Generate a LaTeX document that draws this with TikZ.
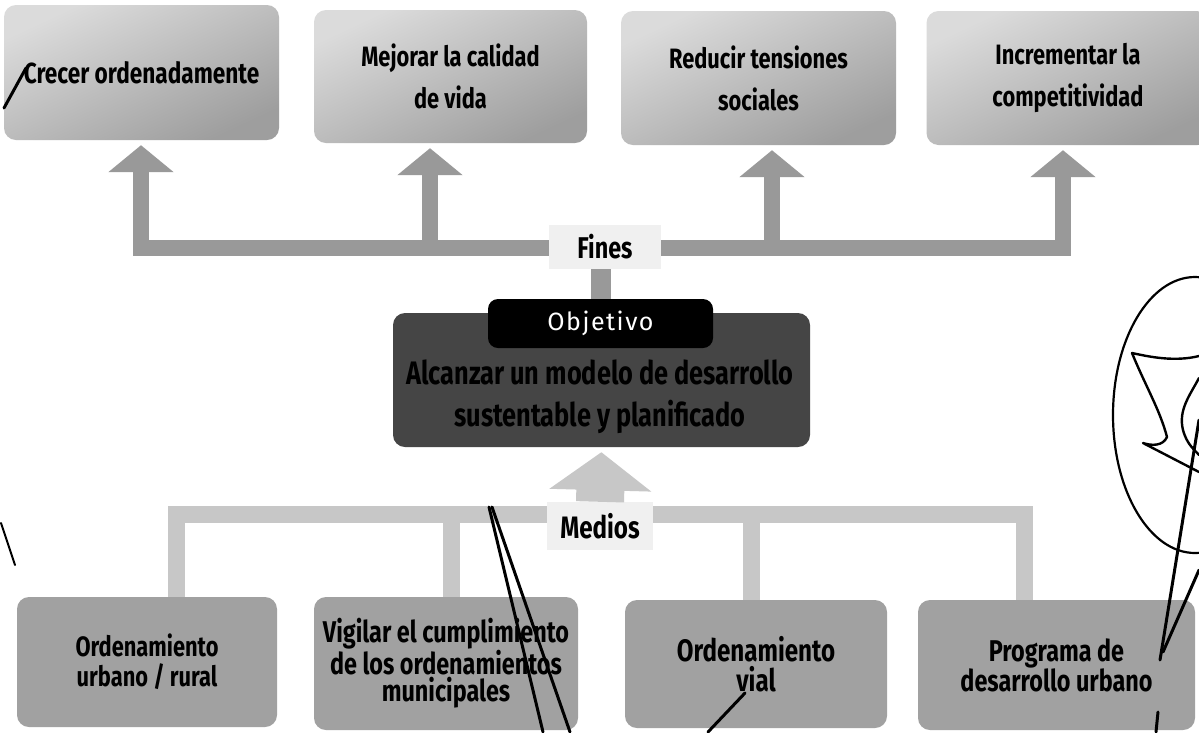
\documentclass[tikz,border=0pt]{standalone}
\usepackage{fontspec}
\usetikzlibrary{arrows.meta,calc}
\newfontfamily\cond[FakeStretch=0.78]{Fira Sans}
\newfontfamily\objf[LetterSpace=6]{Fira Sans}
\definecolor{fgray}{gray}{0.60}
\definecolor{mgray}{gray}{0.78}
\definecolor{bgray}{gray}{0.63}
\definecolor{ogray}{gray}{0.27}
\definecolor{lbl}{gray}{0.94}
\tikzset{
  tbox/.style={rounded corners=12pt, inner sep=0pt, align=center,
    top color=black!14, bottom color=black!38, shading angle=25,
    font=\cond\bfseries\fontsize{28}{42}\selectfont},
  bbox/.style={rounded corners=12pt, inner sep=0pt, align=center, fill=bgray,
    font=\cond\bfseries\fontsize{30}{27}\selectfont},
  lblbox/.style={fill=lbl, inner sep=0pt, font=\cond\bfseries\fontsize{30}{30}\selectfont},
  fbar/.style={draw=fgray, line width=16pt, line join=miter},
  fup/.style={fbar, -{Triangle[width=64pt,length=27pt]}, shorten >=5pt},
  mbar/.style={draw=mgray, line width=17pt, line join=miter},
  pen/.style={draw=black, line width=3pt, line cap=round, line join=round},
}
\begin{document}
\begin{tikzpicture}[x=1pt,y=-1pt]
\useasboundingbox (0,0) rectangle (1199,732);
\clip (0,0) rectangle (1199,732);
\fill[white] (0,0) rectangle (1199,732);

% top boxes
\node[tbox, minimum width=275pt, minimum height=135pt] (t1) at (141.5,72.5)
  {\fontsize{29}{42}\selectfont Crecer ordenadamente};
\node[tbox, minimum width=273pt, minimum height=133pt] (t2) at (450.5,76.5)
  {Mejorar la calidad\\de vida};
\node[tbox, minimum width=275pt, minimum height=134pt] (t3) at (758.5,78)
  {Reducir tensiones\\sociales};
\node[tbox, minimum width=283pt, minimum height=134pt] (t4) at (1068,78)
  {Incrementar la\\competitividad};

% Fines label and bars
\node[lblbox, minimum width=112pt, minimum height=44pt] (fines) at (605,247) {Fines};
\coordinate (c1) at (141,248);
\coordinate (c2) at (430,248);
\coordinate (c3) at (772,248);
\coordinate (c4) at (1063,248);
\draw[fup] (c1 -| fines.west) -- (c1) -- (c1 |- t1.south);
\draw[fup] (c2) -- (c2 |- t2.south);
\draw[fup] (c4 -| fines.east) -- (c4) -- (c4 |- t4.south);
\draw[fup] (c3) -- (c3 |- t3.south);

% objective
\node[rounded corners=12pt, fill=ogray, minimum width=417pt, minimum height=134pt] (obj) at (601.5,380) {};
\node[rounded corners=10pt, fill=black, text=white, minimum width=225pt, minimum height=49pt,
  font=\objf\fontsize{25}{25}\selectfont] (tab) at (600.5,323.5) {Objetivo};
\draw[fbar, line width=20pt] (tab.north |- fines.south) -- (tab.north);
\node[align=center, text=black, font=\cond\bfseries\fontsize{32.5}{42}\selectfont] (objt) at (600,397)
  {Alcanzar un modelo de desarrollo\\sustentable y planificado};

% Medios
\node[lblbox, minimum width=106pt, minimum height=48pt, font=\cond\bfseries\fontsize{31}{31}\selectfont] (medios) at (600,526) {Medios};
\draw[draw=mgray, line width=48pt, -{Triangle[width=100pt,length=38pt]}, shorten >=5pt] (medios.north) -- (obj.south);

% bottom boxes
\node[bbox, minimum width=260pt, minimum height=130pt, font=\cond\bfseries\fontsize{28}{30}\selectfont] (b1) at (147,662)
  {Ordenamiento\\urbano / rural};
\node[bbox, minimum width=264pt, minimum height=133pt] (b2) at (446,663.5)
  {Vigilar el cumplimiento\\de los ordenamientos\\municipales};
\node[bbox, minimum width=262pt, minimum height=128pt, font=\cond\bfseries\fontsize{31}{30}\selectfont] (b3) at (756,664)
  {Ordenamiento\\vial};
\node[bbox, minimum width=277pt, minimum height=130pt, font=\cond\bfseries\fontsize{30}{30}\selectfont] (b4) at (1056.5,665)
  {Programa de\\desarrollo urbano};

\coordinate (m1) at (176,514.5);
\coordinate (m2) at (451,514.5);
\coordinate (m3) at (751,514.5);
\coordinate (m4) at (1024,514.5);
\draw[mbar] (m1 -| medios.west) -- (m1) -- (m1 |- b1.north);
\draw[mbar] (m2) -- (m2 |- b2.north);
\draw[mbar] (m4 -| medios.east) -- (m4) -- (m4 |- b4.north);
\draw[mbar] (m3) -- (m3 |- b3.north);

% handwritten pen marks
\draw[pen] (4,108) -- (26,68);
\draw[pen, line width=2pt] (1,523) -- (15,565);
\draw[pen] (489,507) -- (543,732);
\draw[pen] (492,507) -- (570,732);
\draw[pen] (745,693) -- (708,732);
\draw[pen, line width=2.2pt] (1195,415) ellipse [x radius=82, y radius=138];
\draw[pen, line width=2.4pt] (1199,356) .. controls (1175,362) and (1150,357) .. (1132,353)
  .. controls (1145,385) and (1160,410) .. (1167,437)
  .. controls (1163,446) and (1152,446) .. (1143,443) -- (1199,472);
\draw[pen, line width=2.4pt] (1199,378) .. controls (1190,395) and (1178,410) .. (1183,430)
  .. controls (1187,445) and (1195,450) .. (1199,455);
\draw[pen] (1199,420) -- (1160,660);
\draw[pen] (1199,570) -- (1163,652);
\draw[pen] (1158,712) -- (1156,732);
\end{tikzpicture}
\end{document}
